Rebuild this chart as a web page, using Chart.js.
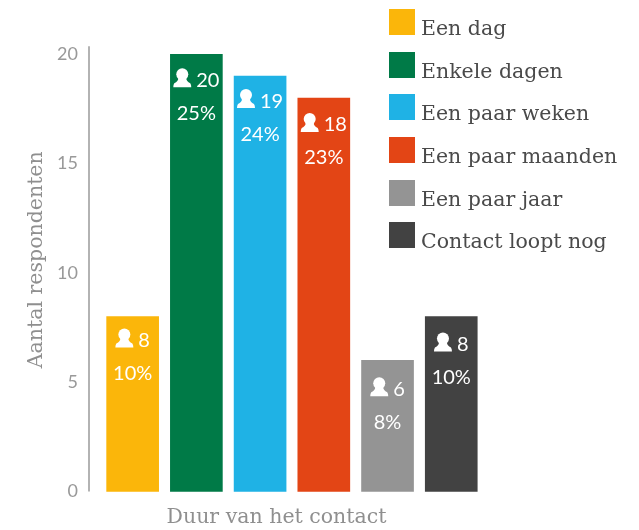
<!DOCTYPE html>
<html>
<head>
<meta charset="utf-8">
<title>Duur van het contact</title>
<script src="https://cdn.jsdelivr.net/npm/chart.js@4"></script>
<style>
    html, body { margin: 0; background: #fff; }
    #wrap { position: relative; width: 639px; height: 530px; overflow: hidden; }
    #legend { position: absolute; left: 389px; top: 9px; }
    .legend-row { display: flex; align-items: baseline; height: 42.7px; color: #4a4a4a; font: 20.5px "DejaVu Serif", serif; white-space: nowrap; }
    .legend-box { width: 26px; height: 26px; margin-right: 6px; flex: none; }
</style>
</head>
<body>
<div id="wrap">
    <canvas id="chart" width="639" height="530"></canvas>
    <div id="legend"></div>
</div>
<script>
// Values
const categories = ['Een dag', 'Enkele dagen', 'Een paar weken', 'Een paar maanden', 'Een paar jaar', 'Contact loopt nog'];
const respondents = [8, 20, 19, 18, 6, 8];
const percentages = ['10%', '25%', '24%', '23%', '8%', '10%'];
const yTicks = [0, 5, 10, 15, 20];

const barColors = ['#FBB60A', '#007A47', '#1FB2E5', '#E34515', '#949494', '#424242'];
// How far below the bar top the count and percent rows sit
const labelDrop = [24, 26, 25, 27, 29, 28];

// Person icon, drawn from its top left corner
function drawPerson(ctx, x, y) {
    ctx.beginPath();
    ctx.arc(x + 9, y + 6, 6, 0, Math.PI * 2);
    ctx.fill();
    ctx.beginPath();
    ctx.moveTo(x + 5, y + 10);
    ctx.quadraticCurveTo(x + 5, y + 13, x + 1, y + 15);
    ctx.quadraticCurveTo(x, y + 16.5, x, y + 19);
    ctx.lineTo(x + 18, y + 19);
    ctx.quadraticCurveTo(x + 18, y + 16.5, x + 17, y + 15);
    ctx.quadraticCurveTo(x + 13, y + 13, x + 13, y + 10);
    ctx.closePath();
    ctx.fill();
}

// The axis line stops a little above the 20 tick, below the top of the scale
const axisLine = {
    id: 'axisLine',
    beforeDatasetsDraw(chart) {
        const ctx = chart.ctx;
        const y = chart.scales.y;
        ctx.save();
        ctx.strokeStyle = '#b3b3b3';
        ctx.lineWidth = 2;
        ctx.beginPath();
        ctx.moveTo(y.right, y.getPixelForValue(20.37));
        ctx.lineTo(y.right, y.getPixelForValue(0));
        ctx.stroke();
        ctx.restore();
    }
};

const barLabels = {
    id: 'barLabels',
    afterDatasetsDraw(chart) {
        const ctx = chart.ctx;
        ctx.save();
        ctx.fillStyle = '#fff';
        ctx.font = '20px Lato';
        ctx.textBaseline = 'middle';
        chart.getDatasetMeta(0).data.forEach((bar, i) => {
            const count = String(respondents[i]);
            const countWidth = ctx.measureText(count).width;
            const left = bar.x - (18 + 5 + countWidth) / 2;
            const rowY = bar.y + labelDrop[i];

            drawPerson(ctx, left, rowY - 12);
            ctx.textAlign = 'left';
            ctx.fillText(count, left + 23, rowY);
            ctx.textAlign = 'center';
            ctx.fillText(percentages[i], bar.x, rowY + 33);
        });
        ctx.restore();
    }
};

new Chart(document.getElementById('chart').getContext('2d'), {
    type: 'bar',
    data: {
        datasets: [{
            data: respondents.map((v, i) => ({ x: i, y: v })),
            backgroundColor: barColors,
            barThickness: 52,
            clip: false
        }]
    },
    plugins: [axisLine, barLabels],
    options: {
        responsive: false,
        animation: false,
        layout: { padding: { left: 24, top: 28, right: 175, bottom: 0 } },
        plugins: {
            legend: { display: false },
            tooltip: { enabled: false }
        },
        scales: {
            x: {
                type: 'linear',
                offset: false,
                min: -0.685,
                max: 5.2,
                grid: { display: false },
                border: { display: false },
                ticks: { display: false },
                title: {
                    display: true,
                    text: 'Duur van het contact',
                    color: '#8f8f8f',
                    font: { family: 'DejaVu Serif', size: 20.5 },
                    padding: { top: 14, bottom: 0 }
                },
                afterFit(scale) { scale.height = 38.5; }
            },
            y: {
                min: 0,
                max: 21.2,
                afterBuildTicks(scale) { scale.ticks = yTicks.map(v => ({ value: v })); },
                grid: { display: false, drawTicks: false },
                border: { display: false },
                ticks: { color: '#999', padding: 11, font: { family: 'Lato', size: 18 } },
                title: {
                    display: true,
                    text: 'Aantal respondenten',
                    color: '#8f8f8f',
                    font: { family: 'DejaVu Serif', size: 20.5 },
                    padding: 0
                },
                afterFit(scale) { scale.width = 65; }
            }
        }
    }
});

// Legend next to the chart
const legend = document.getElementById('legend');
categories.forEach((name, i) => {
    const row = document.createElement('div');
    row.className = 'legend-row';
    const box = document.createElement('span');
    box.className = 'legend-box';
    box.style.backgroundColor = barColors[i];
    const label = document.createElement('span');
    label.textContent = name;
    row.appendChild(box);
    row.appendChild(label);
    legend.appendChild(row);
});
</script>
</body>
</html>
